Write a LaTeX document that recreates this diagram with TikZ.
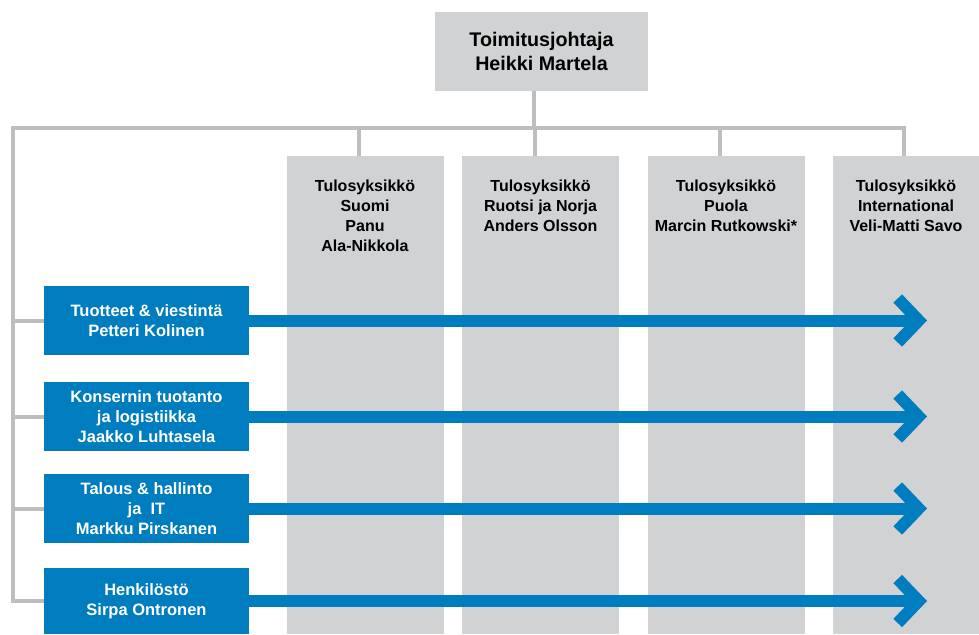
\documentclass[tikz,border=0pt]{standalone}
\usepackage{fontspec}
\setmainfont{Liberation Sans}
\usetikzlibrary{positioning,arrows.meta}
\definecolor{orgblue}{RGB}{0,125,190}
\definecolor{unitgray}{RGB}{209,210,212}
\definecolor{linkgray}{RGB}{188,190,192}
\tikzstyle{boss} = [fill=unitgray,rectangle,minimum width=213pt,minimum height=79pt,inner sep=0,align=center,font=\bfseries\fontsize{19.7}{24}\selectfont]
\tikzstyle{unit} = [fill=unitgray,rectangle,minimum width=157pt,minimum height=478pt,inner sep=0,anchor=north]
\tikzstyle{unitname} = [inner sep=0,align=center,font=\bfseries\fontsize{16}{20}\selectfont]
\tikzstyle{func} = [fill=orgblue,text=white,rectangle,minimum width=205pt,minimum height=69pt,inner sep=0,align=center,font=\bfseries\fontsize{16.5}{20}\selectfont]
\tikzstyle{link} = [draw=linkgray,line width=4pt]
\tikzstyle{flow} = [draw=orgblue,line width=12pt,-{Straight Barb[length=21pt,width=44pt]}]
\def \drop {6pt}

\begin{document}
\begin{tikzpicture}[x=1pt,y=-1pt]
      \useasboundingbox (0,0) rectangle (979,634);
      \node[boss] (ceo) at (541.5,51.5) {Toimitusjohtaja\\Heikki Martela};
      % tulosyksikot
      \node[unit] (u1) at (365,156) {};
      \node[unit] (u2) at (540.5,156) {};
      \node[unit] (u3) at (726,156) {};
      \node[unit,minimum width=146pt] (u4) at (906,156) {};
      \node[unitname,below=24pt of u1.north] (n1) {Tulosyksikkö\\Suomi\\Panu\\Ala-Nikkola};
      \node[unitname,below=24pt of u2.north] (n2) {Tulosyksikkö\\Ruotsi ja Norja\\Anders Olsson};
      \node[unitname,below=24pt of u3.north] (n3) {Tulosyksikkö\\Puola\\Marcin Rutkowski*};
      \node[unitname,below=24pt of u4.north] (n4) {Tulosyksikkö\\International\\Veli-Matti Savo};
      % konsernitoiminnot
      \node[func] (b1) at (146.5,320.5) {Tuotteet \& viestintä\\Petteri Kolinen};
      \node[func] (b2) at (146.5,416.5) {Konsernin tuotanto\\ja logistiikka\\Jaakko Luhtasela};
      \node[func] (b3) at (146.5,508.5) {Talous \& hallinto\\ja\ \ IT\\Markku Pirskanen};
      \node[func,minimum height=66pt] (b4) at (146.5,601) {Henkilöstö\\Sirpa Ontronen};
      \coordinate (bus) at (13,128);
      \coordinate (tip) at (927,0);
      % viivat
      \draw[link] ([xshift=-2pt]u4.north) |- (bus) |- (b4.west);
      \draw[link] ([xshift=-8pt]ceo.south) -- ([xshift=-8pt]ceo.south |- bus);
      \foreach \u in {u1,u2,u3}
        \draw[link] ([xshift=-\drop]\u.north) -- ([xshift=-\drop]\u.north |- bus);
      \foreach \b in {b1,b2,b3}
        \draw[link] (\b.west) -- (\b.west -| bus);
      \foreach \b in {b1,b2,b3,b4}
        \draw[flow] (\b.east) -- (\b.east -| tip);
    \end{tikzpicture}
\end{document}
